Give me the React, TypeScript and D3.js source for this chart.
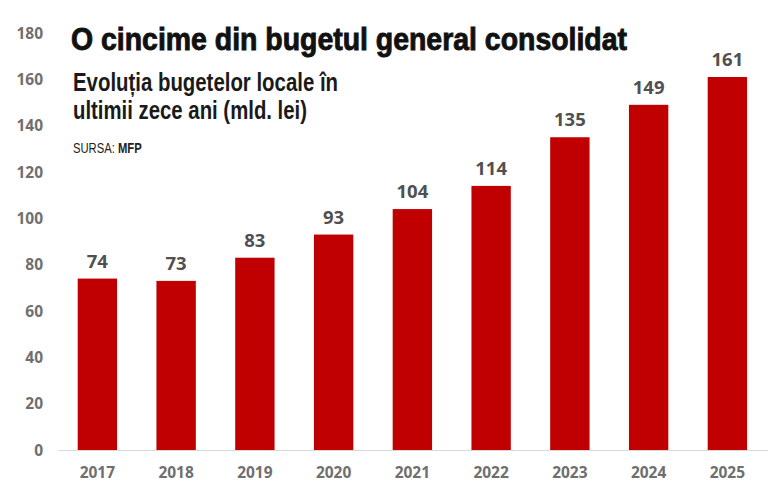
import React from 'react';
import * as d3 from 'd3';

const years = ['2017', '2018', '2019', '2020', '2021', '2022', '2023', '2024', '2025'];
const budgets = [74, 73, 83, 93, 104, 114, 135, 149, 161];
const yTicks = [0, 20, 40, 60, 80, 100, 120, 140, 160, 180];

const W = 768;
const H = 488;
const RED = '#c00000';

export default function App() {
  const x = d3.scaleBand<string>()
    .domain(years)
    .range([58, 766.75])
    .paddingInner(0.5)
    .paddingOuter(0.25);

  const y = d3.scaleLinear()
    .domain([0, 180])
    .range([450, 33]);

  const numFont = '"Open Sans", "DejaVu Sans", sans-serif';
  const narrow = '"Liberation Sans Narrow", "Liberation Sans", Arial, sans-serif';

  return (
    <div style={{ position: 'absolute', left: 0, top: 0 }}>
      <svg width={W} height={H} viewBox={`0 0 ${W} ${H}`} style={{ display: 'block', background: '#fff' }}>
        {/* y labels, no grid */}
        {yTicks.map(t => (
          <text key={t} x={43} y={y(t)} dy="0.36em" textAnchor="end"
            fontFamily={numFont} fontWeight={700} fontSize={15.5} fill="#6f6f6f">
            {t}
          </text>
        ))}

        <line x1={58} x2={768} y1={y(0) + 0.5} y2={y(0) + 0.5} stroke="#d9d9d9" strokeWidth={1} />

        {budgets.map((v, i) => {
          const yr = years[i];
          const bx = x(yr)!;
          return (
            <g key={yr}>
              <rect x={bx} y={y(v)} width={x.bandwidth()} height={y(0) - y(v)} fill={RED} />
              <text x={bx + x.bandwidth() / 2} y={y(v) - 11} textAnchor="middle"
                fontFamily={numFont} fontWeight={700} fontSize={18.5} fill="#505050">
                {v}
              </text>
              <text x={bx + x.bandwidth() / 2} y={478} textAnchor="middle"
                fontFamily={numFont} fontWeight={700} fontSize={15.5} fill="#6f6f6f">
                {yr}
              </text>
            </g>
          );
        })}

        {/* headings */}
        <text x={71} y={50} fontFamily='"Liberation Sans", Arial, sans-serif' fontWeight={700}
          fontSize={31} fill="#111" stroke="#111" strokeWidth={0.9}
          textLength={556} lengthAdjust="spacingAndGlyphs">
          O cincime din bugetul general consolidat
        </text>
        <text x={73} y={91} fontFamily={narrow} fontWeight={700}
          fontSize={25} fill="#1a1a1a" textLength={265} lengthAdjust="spacingAndGlyphs">
          Evoluția bugetelor locale în
        </text>
        <text x={73} y={119} fontFamily={narrow} fontWeight={700}
          fontSize={25} fill="#1a1a1a" textLength={234} lengthAdjust="spacingAndGlyphs">
          ultimii zece ani (mld. lei)
        </text>
        <g transform="translate(73,153) scale(0.75,1)">
          <text x={0} y={0} fontFamily={narrow} fontSize={15} fill="#222">
            SURSA: <tspan fontWeight={700}>MFP</tspan>
          </text>
        </g>
      </svg>
    </div>
  );
}
